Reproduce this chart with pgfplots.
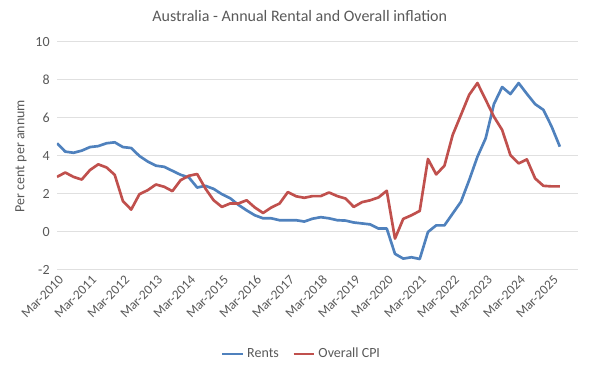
\documentclass[border=0pt]{standalone}
\usepackage{fontspec}
\setmainfont{Carlito}
\usepackage{pgfplots}
\pgfplotsset{compat=1.18}
\definecolor{rentblue}{HTML}{4F81BD}
\definecolor{cpired}{HTML}{C0504D}
\definecolor{txtgrey}{HTML}{595959}
\definecolor{gridgrey}{HTML}{E0E0E0}
\begin{document}
\begin{tikzpicture}
\begin{axis}[
  scale only axis, width=390.75pt, height=171pt,
  xmin=0, xmax=63.2, ymin=-2, ymax=10,
  ytick={-2,0,2,4,6,8,10},
  xtick={0,4,...,60},
  xticklabels={Mar-2010,Mar-2011,Mar-2012,Mar-2013,Mar-2014,Mar-2015,Mar-2016,Mar-2017,Mar-2018,Mar-2019,Mar-2020,Mar-2021,Mar-2022,Mar-2023,Mar-2024,Mar-2025},
  xticklabel style={rotate=45, anchor=east, font=\fontsize{10}{12}\selectfont, text=txtgrey, yshift=-6.5pt, xshift=1.5pt},
  yticklabel style={font=\fontsize{10.5}{12}\selectfont, text=txtgrey, xshift=-2pt},
  /pgf/number format/assume math mode=true,
  axis line style={draw=none},
  major tick length=0pt,
  ymajorgrids, grid style={gridgrey, line width=0.75pt},
  ylabel={Per cent per annum},
  ylabel style={at={(axis description cs:-0.069,0.5)}, anchor=center, font=\fontsize{10.5}{12}\selectfont, text=txtgrey},
  title={Australia - Annual Rental and Overall inflation},
  title style={at={(axis description cs:0.466,1)}, anchor=center, yshift=13.5pt, font=\fontsize{12}{14}\selectfont, text=txtgrey},
  legend style={at={(axis description cs:0.47,0)}, yshift=-63pt, anchor=center, draw=none, fill=none, font=\fontsize{10.5}{12}\selectfont, text=txtgrey, /tikz/every even column/.append style={column sep=8pt}},
  legend columns=2,
  legend image code/.code={\draw[#1, line width=2pt] (0cm,0cm) -- (0.55cm,0cm);},
]
\addplot[rentblue, line width=2pt, line join=round] coordinates {
(0,4.67) (1,4.23) (2,4.17) (3,4.28) (4,4.47) (5,4.52) (6,4.67) (7,4.72) (8,4.47) (9,4.42)
(10,4.00) (11,3.71) (12,3.49) (13,3.43) (14,3.22) (15,3.01) (16,2.87) (17,2.34) (18,2.43) (19,2.27)
(20,1.99) (21,1.78) (22,1.43) (23,1.14) (24,0.88) (25,0.72) (26,0.72) (27,0.62) (28,0.62) (29,0.62)
(30,0.55) (31,0.70) (32,0.78) (33,0.72) (34,0.62) (35,0.60) (36,0.50) (37,0.45) (38,0.40) (39,0.18)
(40,0.18) (41,-1.15) (42,-1.40) (43,-1.33) (44,-1.42) (45,0.00) (46,0.35) (47,0.35) (48,0.97) (49,1.59)
(50,2.73) (51,3.96) (52,4.93) (53,6.73) (54,7.63) (55,7.26) (56,7.84) (57,7.27) (58,6.73) (59,6.43)
(60,5.55) (61,4.49)
};
\addlegendentry{Rents}
\addplot[cpired, line width=2pt, line join=round] coordinates {
(0,2.90) (1,3.13) (2,2.90) (3,2.76) (4,3.26) (5,3.56) (6,3.40) (7,3.01) (8,1.62) (9,1.18)
(10,1.99) (11,2.20) (12,2.50) (13,2.38) (14,2.15) (15,2.73) (16,2.96) (17,3.05) (18,2.29) (19,1.67)
(20,1.32) (21,1.50) (22,1.50) (23,1.67) (24,1.29) (25,1.00) (26,1.29) (27,1.50) (28,2.10) (29,1.88)
(30,1.80) (31,1.89) (32,1.89) (33,2.08) (34,1.89) (35,1.76) (36,1.32) (37,1.57) (38,1.67) (39,1.82)
(40,2.17) (41,-0.35) (42,0.69) (43,0.88) (44,1.11) (45,3.84) (46,3.03) (47,3.49) (48,5.11) (49,6.16)
(50,7.22) (51,7.84) (52,6.96) (53,6.07) (54,5.37) (55,4.05) (56,3.61) (57,3.82) (58,2.82) (59,2.43)
(60,2.40) (61,2.40)
};
\addlegendentry{Overall CPI}
\end{axis}
\path[use as bounding box] ([xshift=-42.75pt,yshift=-69pt]current axis.south west) rectangle ([xshift=16.5pt,yshift=31.5pt]current axis.north east);
\end{tikzpicture}
\end{document}
